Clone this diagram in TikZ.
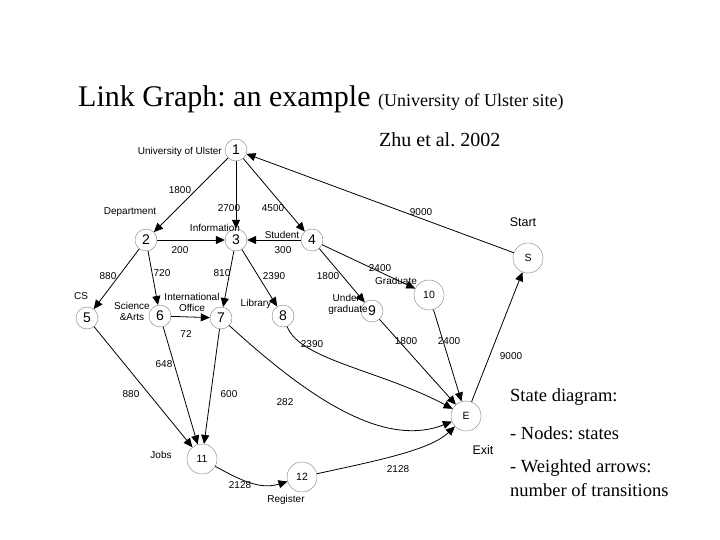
\documentclass[tikz,border=0pt]{standalone}
\usepackage{fontspec}
\setmainfont{Liberation Serif}
\newfontfamily\diagfont{Liberation Sans}
\usetikzlibrary{arrows.meta}
\frenchspacing
\begin{document}
\begin{tikzpicture}[x=1pt,y=-1pt,
    st/.style={circle, draw=gray, fill=white, minimum size=22pt, inner sep=0pt, font=\diagfont\fontsize{14}{14}\selectfont},
    bigst/.style={circle, draw=gray, fill=white, minimum size=30pt, inner sep=0pt, font=\diagfont\fontsize{10.5}{10.5}\selectfont},
    lbl/.style={font=\diagfont\fontsize{10}{11}\selectfont, inner sep=0pt, align=center},
    note/.style={anchor=base west, inner sep=0pt, font=\fontsize{18.5}{18.5}\selectfont},
    arr/.style={-{Triangle[length=9pt,width=8pt]}, thick}]
    \useasboundingbox (0,0) rectangle (720,540);

    % titles
    \node[anchor=base west, inner sep=0pt] (title) at (78,107) {\fontsize{30}{30}\selectfont Link Graph: an example {\fontsize{18}{18}\selectfont (University of Ulster site)}};
    \node[anchor=base west, inner sep=0pt] (cite) at (379,147) {\fontsize{20}{20}\selectfont Zhu et al. 2002};

    % states
    \node[st] (n1) at (236,150) {1};
    \node[st] (n2) at (146,240) {2};
    \node[st] (n3) at (236,240) {3};
    \node[st] (n4) at (312,240) {4};
    \node[st] (n5) at (87,318) {5};
    \node[st] (n6) at (160,316) {6};
    \node[st] (n7) at (221,318) {7};
    \node[st] (n8) at (283,316) {8};
    \node[st] (n9) at (372,311) {9};
    \node[bigst] (n10) at (429,295) {10};
    \node[bigst] (nS) at (528,258) {S};
    \node[bigst] (nE) at (466,416) {E};
    \node[bigst] (n11) at (202,459) {11};
    \node[bigst] (n12) at (302,477) {12};

    % transitions
    \draw[arr] (n1) -- (n2);
    \draw[arr] (n1) -- (n3);
    \draw[arr] (n1) -- (n4);
    \draw[arr] (n2) -- (n3);
    \draw[arr] (n4) -- (n3);
    \draw[arr] (n2) -- (n5);
    \draw[arr] (n2) -- (n6);
    \draw[arr] (n3) -- (n7);
    \draw[arr] (n3) -- (n8);
    \draw[arr] (n4) -- (n9);
    \draw[arr] (n4) -- (n10);
    \draw[arr] (n6) -- (n7);
    \draw[arr] (n5) -- (n11);
    \draw[arr] (n6) -- (n11);
    \draw[arr] (n7) -- (n11);
    \draw[arr] (n7) .. controls (300,390) and (380,450) .. (nE);
    \draw[arr] (n8) .. controls (300,360) and (380,370) .. (nE);
    \draw[arr] (n9) -- (nE);
    \draw[arr] (n10) -- (nE);
    \draw[arr] (nE) -- (nS);
    \draw[arr] (nS) -- (n1);
    \draw[arr] (n11) .. controls (240,480) and (260,490) .. (n12);
    \draw[arr] (n12) .. controls (380,460) and (430,450) .. (nE);

    % names
    \node[lbl, anchor=east] (l1) at (222,152) {University of Ulster};
    \node[lbl] (l2) at (130,212) {Department};
    \node[lbl] (l3) at (215,228) {Information};
    \node[lbl] (l4) at (282,235) {Student};
    \node[lbl] (l5) at (81,296) {CS};
    \node[lbl] (l6) at (132,311) {Science\\\&Arts};
    \node[lbl] (l7) at (192,302) {International\\Office};
    \node[lbl] (l8) at (256,304) {Library};
    \node[lbl] (l9) at (348,304) {Under-\\graduate};
    \node[lbl] (l10) at (396,281) {Graduate};
    \node[lbl] (l11) at (161,455) {Jobs};
    \node[lbl] (l12) at (286,500) {Register};
    \node[font=\diagfont\fontsize{12.5}{12.5}\selectfont] (lS) at (523,222) {Start};
    \node[font=\diagfont\fontsize{12.5}{12.5}\selectfont] (lE) at (483,450) {Exit};

    % weights
    \node[lbl] at (180,190) {1800};
    \node[lbl] at (229,208) {2700};
    \node[lbl] at (273,208) {4500};
    \node[lbl] at (421,212) {9000};
    \node[lbl] at (180,250) {200};
    \node[lbl] at (283,250) {300};
    \node[lbl] at (108,276) {880};
    \node[lbl] at (162,273) {720};
    \node[lbl] at (222,273) {810};
    \node[lbl] at (274,276) {2390};
    \node[lbl] at (328,276) {1800};
    \node[lbl] at (380,268) {2400};
    \node[lbl] at (186,334) {72};
    \node[lbl] at (312,344) {2390};
    \node[lbl] at (406,341) {1800};
    \node[lbl] at (449,341) {2400};
    \node[lbl] at (511,356) {9000};
    \node[lbl] at (164,364) {648};
    \node[lbl] at (131,394) {880};
    \node[lbl] at (229,394) {600};
    \node[lbl] at (285,402) {282};
    \node[lbl] at (240,485) {2128};
    \node[lbl] at (398,469) {2128};

    % notes
    \node[note] (note1) at (510,401) {State diagram:};
    \node[note] (note2) at (510,439) {- Nodes: states};
    \node[note] (note3) at (510,472) {- Weighted arrows:};
    \node[note] (note4) at (510,496) {number of transitions};
\end{tikzpicture}
\end{document}
